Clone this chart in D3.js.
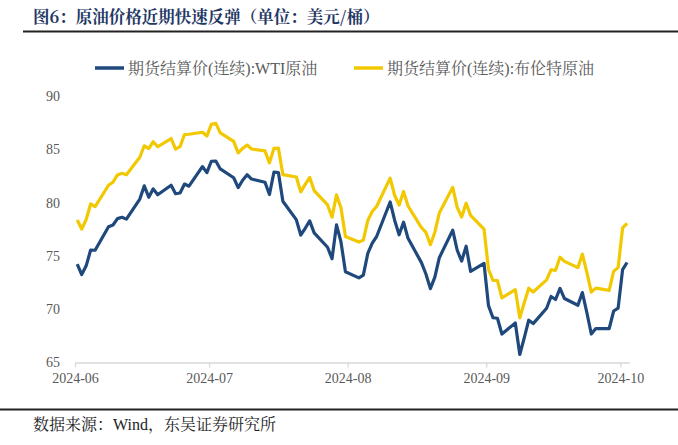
<!DOCTYPE html>
<html>
<head>
<meta charset="utf-8">
<script src="https://cdn.jsdelivr.net/npm/d3@7"></script>
<style>
  html, body { margin: 0; padding: 0; background: #fff; }
  svg { display: block; }
</style>
</head>
<body>
<svg id="chart" width="678" height="445"></svg>
<script>
// ---- data ----
const dates = [
  "2024-06-03","2024-06-04","2024-06-05","2024-06-06","2024-06-07",
  "2024-06-10","2024-06-11","2024-06-12","2024-06-13","2024-06-14",
  "2024-06-17","2024-06-18","2024-06-19","2024-06-20","2024-06-21",
  "2024-06-24","2024-06-25","2024-06-26","2024-06-27","2024-06-28",
  "2024-07-01","2024-07-02","2024-07-03","2024-07-04","2024-07-05",
  "2024-07-08","2024-07-09","2024-07-10","2024-07-11","2024-07-12",
  "2024-07-15","2024-07-16","2024-07-17","2024-07-18","2024-07-19",
  "2024-07-22","2024-07-23","2024-07-24","2024-07-25","2024-07-26",
  "2024-07-29","2024-07-30","2024-07-31","2024-08-01","2024-08-02",
  "2024-08-05","2024-08-06","2024-08-07","2024-08-08","2024-08-09",
  "2024-08-12","2024-08-13","2024-08-14","2024-08-15","2024-08-16",
  "2024-08-19","2024-08-20","2024-08-21","2024-08-22","2024-08-23",
  "2024-08-26","2024-08-27","2024-08-28","2024-08-29","2024-08-30",
  "2024-09-02","2024-09-03","2024-09-04","2024-09-05","2024-09-06",
  "2024-09-09","2024-09-10","2024-09-11","2024-09-12","2024-09-13",
  "2024-09-16","2024-09-17","2024-09-18","2024-09-19","2024-09-20",
  "2024-09-23","2024-09-24","2024-09-25","2024-09-26","2024-09-27",
  "2024-09-30","2024-10-01","2024-10-02","2024-10-03","2024-10-04"
];
const wti = [
  74.22,73.25,74.07,75.55,75.53,
  77.74,77.90,78.50,78.62,78.45,
  80.33,81.57,80.50,81.29,80.73,
  81.63,80.83,80.90,81.74,81.54,
  83.38,82.81,83.88,83.90,83.16,
  82.33,81.41,82.10,82.62,82.21,
  81.91,80.76,82.85,82.82,80.13,
  78.40,76.96,77.59,78.28,77.16,
  75.81,74.73,77.91,76.31,73.52,
  72.94,73.20,75.23,76.19,76.84,
  80.06,78.35,76.98,78.16,76.65,
  74.37,73.30,71.93,73.01,74.83,
  77.42,75.53,74.52,75.91,73.55,
  74.30,70.34,69.20,69.15,67.67,
  68.71,65.75,67.31,68.97,68.65,
  70.09,71.19,70.91,71.95,71.00,
  70.37,71.56,69.69,67.67,68.18,
  68.17,69.83,70.10,73.71,74.38
];
const brent = [
  78.36,77.52,78.41,79.87,79.62,
  81.63,81.92,82.60,82.75,82.62,
  84.25,85.33,85.07,85.71,85.24,
  86.01,85.01,85.25,86.39,86.41,
  86.60,86.24,87.34,87.43,86.54,
  85.75,84.66,85.08,85.40,85.03,
  84.85,83.73,85.08,85.11,82.63,
  82.40,81.01,81.71,82.37,81.13,
  79.78,78.63,80.72,79.52,76.81,
  76.30,76.48,78.33,79.16,79.66,
  82.30,80.69,79.76,81.04,79.68,
  77.66,77.20,76.05,77.22,79.02,
  81.43,79.55,78.65,79.94,78.80,
  77.52,73.75,72.70,72.69,71.06,
  71.84,69.19,70.61,71.97,71.61,
  72.75,73.70,73.65,74.88,74.49,
  73.90,75.17,73.46,71.60,71.98,
  71.77,73.56,73.90,77.62,78.05
];
const seriesNames = ["期货结算价(连续):WTI原油", "期货结算价(连续):布伦特原油"];
const seriesColors = ["#1F497D", "#F2C800"];
const yTicks = [65, 70, 75, 80, 85, 90];
const xTickLabels = ["2024-06", "2024-07", "2024-08", "2024-09", "2024-10"];
const titleText = "图6：原油价格近期快速反弹（单位：美元/桶）";
const sourceText = "数据来源：Wind，东吴证券研究所";

// ---- drawing ----
const svg = d3.select("#chart");
const W = 678, H = 445;
const latin = "'Liberation Serif', 'Times New Roman', 'Noto Serif CJK SC', 'Noto Sans CJK SC', serif";
const cjkBold = "'Noto Serif CJK SC', 'Noto Sans CJK SC', sans-serif";

const parse = d3.timeParse("%Y-%m-%d");
const dt = dates.map(parse);
const halfDay = 12 * 3600 * 1000;

const x = d3.scaleTime()
  .domain([new Date(dt[0].getTime() - halfDay), new Date(dt[dt.length - 1].getTime() + halfDay)])
  .range([75, 629.3]);
const y = d3.scaleLinear().domain([65, 90]).range([362.5, 96]);

// title
svg.append("text")
  .attr("x", 33).attr("y", 23)
  .attr("font-family", cjkBold)
  .attr("font-weight", 700)
  .attr("font-size", 16.5)
  .attr("fill", "#1F3864")
  .text(titleText);
svg.append("line")
  .attr("x1", 23).attr("x2", W).attr("y1", 31.5).attr("y2", 31.5)
  .attr("stroke", "#222").attr("stroke-width", 2);

// legend
const legendX = [95, 354];
seriesNames.forEach((name, i) => {
  const g = svg.append("g").attr("transform", `translate(${legendX[i]},68)`);
  g.append("line").attr("x1", 0).attr("x2", 29).attr("y1", 0).attr("y2", 0)
    .attr("stroke", seriesColors[i]).attr("stroke-width", 3.5);
  g.append("text").attr("x", 33).attr("y", 5.5)
    .attr("font-family", latin).attr("font-size", 16).attr("fill", "#595959")
    .text(name);
});

// x axis
const xTickValues = xTickLabels.map(s => new Date(parse(s + "-03").getTime() - halfDay));
const xAxis = d3.axisBottom(x)
  .tickValues(xTickValues)
  .tickFormat((d, i) => xTickLabels[i])
  .tickSizeInner(5).tickSizeOuter(0).tickPadding(6);
const gx = svg.append("g").attr("transform", `translate(0,${y(65)})`).call(xAxis);
gx.select(".domain").attr("stroke", "#D9D9D9").attr("stroke-width", 1.3);
gx.selectAll(".tick line").attr("stroke", "#D9D9D9").attr("stroke-width", 1.3);
gx.selectAll(".tick text").attr("font-family", latin).attr("font-size", 14).attr("fill", "#595959");

// y axis labels
const yAxis = d3.axisLeft(y).tickValues(yTicks).tickSize(0).tickPadding(0);
const gy = svg.append("g").attr("transform", "translate(60,0)").call(yAxis);
gy.select(".domain").remove();
gy.selectAll(".tick text").attr("font-family", latin).attr("font-size", 14).attr("fill", "#595959");

// lines
const line = vals => d3.line()
  .x((d, i) => x(dt[i]))
  .y(d => y(d))(vals);
[wti, brent].forEach((vals, i) => {
  svg.append("path")
    .attr("d", line(vals))
    .attr("fill", "none")
    .attr("stroke", seriesColors[i])
    .attr("stroke-width", 3.2)
    .attr("stroke-linejoin", "round");
});

// bottom rule and source
svg.append("line")
  .attr("x1", 0).attr("x2", W).attr("y1", 409.5).attr("y2", 409.5)
  .attr("stroke", "#222").attr("stroke-width", 2);
svg.append("text")
  .attr("x", 33).attr("y", 430)
  .attr("font-family", latin)
  .attr("font-size", 16)
  .attr("fill", "#222")
  .text(sourceText);
</script>
</body>
</html>
